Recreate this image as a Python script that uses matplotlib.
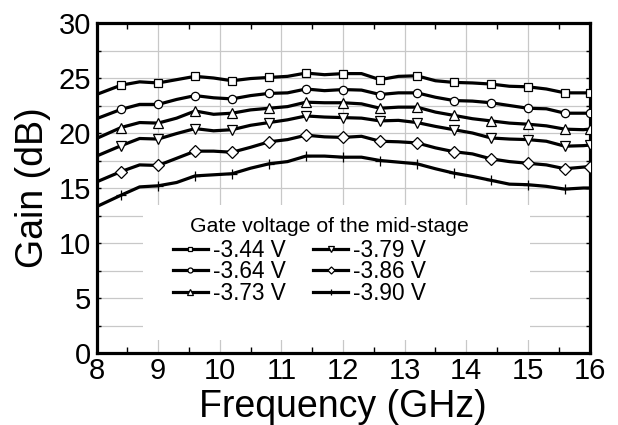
import matplotlib

matplotlib.use("Agg")
import matplotlib.pyplot as plt
from matplotlib.patches import Rectangle
from matplotlib.ticker import MultipleLocator, FixedLocator
import numpy as np

plt.rcParams["font.family"] = ["Liberation Sans", "DejaVu Sans"]

# measured gain vs frequency for each mid-stage gate bias
freq_ghz = [8.0, 8.4, 8.7, 9.0, 9.3, 9.6, 9.9, 10.2, 10.5, 10.8, 11.1, 11.4, 11.7, 12.0,
            12.3, 12.6, 12.9, 13.2, 13.5, 13.8, 14.1, 14.4, 14.7, 15.0, 15.3, 15.6, 15.9, 16.0]

gain_344 = [23.5, 24.35, 24.65, 24.55, 24.85, 25.15, 25.0, 24.75, 24.95, 25.05, 25.15, 25.45, 25.3, 25.4,
            25.4, 24.85, 25.15, 25.2, 24.75, 24.6, 24.55, 24.45, 24.25, 24.2, 24.0, 23.65, 23.65, 23.65]
gain_364 = [21.3, 22.15, 22.6, 22.6, 23.05, 23.4, 23.2, 23.1, 23.4, 23.6, 23.65, 24.0, 23.85, 23.95,
            23.9, 23.5, 23.65, 23.65, 23.25, 22.95, 22.9, 22.75, 22.5, 22.25, 22.2, 21.8, 21.8, 21.8]
gain_373 = [19.5, 20.5, 20.95, 20.9, 21.35, 22.0, 21.7, 21.8, 22.1, 22.25, 22.4, 22.8, 22.75, 22.75,
            22.65, 22.25, 22.35, 22.35, 21.9, 21.6, 21.3, 21.1, 20.9, 20.8, 20.65, 20.35, 20.3, 20.35]
gain_379 = [17.9, 18.85, 19.5, 19.45, 19.95, 20.4, 20.2, 20.3, 20.7, 20.95, 21.2, 21.55, 21.45, 21.4,
            21.35, 21.1, 21.15, 20.95, 20.6, 20.3, 20.0, 19.55, 19.45, 19.4, 19.25, 18.8, 18.85, 18.9]
gain_386 = [15.55, 16.5, 17.1, 17.05, 17.7, 18.35, 18.35, 18.25, 18.7, 19.2, 19.4, 19.8, 19.65, 19.6,
            19.7, 19.25, 19.2, 19.1, 18.65, 18.3, 18.1, 17.65, 17.4, 17.25, 17.1, 16.75, 16.9, 16.95]
gain_390 = [13.3, 14.35, 15.1, 15.2, 15.5, 16.1, 16.2, 16.3, 16.8, 17.2, 17.4, 17.9, 17.9, 17.8,
            17.8, 17.5, 17.35, 17.2, 16.75, 16.35, 16.05, 15.7, 15.35, 15.3, 15.15, 14.9, 15.0, 15.0]

bias_labels = ["-3.44 V", "-3.64 V", "-3.73 V", "-3.79 V", "-3.86 V", "-3.90 V"]
series = [gain_344, gain_364, gain_373, gain_379, gain_386, gain_390]
markers = ["s", "o", "^", "v", "D", "+"]
marker_sizes = [6, 6, 6.5, 6.5, 6, 7]

fig = plt.figure(figsize=(6.18, 4.25), dpi=100)
ax = fig.add_axes([96.5 / 618, 1 - 353 / 425, 493 / 618, 330 / 425])

for gain, label, mk, ms in zip(series, bias_labels, markers, marker_sizes):
    ax.plot(freq_ghz, gain, color="black", lw=2.3, solid_joinstyle="round",
            marker=mk, markevery=(1, 2), ms=ms, mfc="white", mec="black", mew=0.9,
            label=label, zorder=3)

ax.set_xlim(8, 16)
ax.set_ylim(0, 30)
ax.xaxis.set_major_locator(MultipleLocator(1))
ax.xaxis.set_minor_locator(FixedLocator(np.arange(8.5, 16, 1.0)))
ax.yaxis.set_major_locator(MultipleLocator(5))
ax.yaxis.set_minor_locator(MultipleLocator(2.5))

ax.grid(which="major", axis="x", color="#c8c8c8", lw=0.9, zorder=0)
ax.grid(which="both", axis="y", color="#c8c8c8", lw=0.9, zorder=0)
ax.set_axisbelow(True)

ax.tick_params(axis="x", which="major", length=0, labelsize=21, pad=3)
ax.tick_params(axis="x", which="minor", direction="in", length=4, width=1, top=True, bottom=True)
ax.tick_params(axis="y", which="both", direction="in", length=3, width=1, left=True, right=True)
ax.tick_params(axis="y", which="major", labelsize=21, pad=4)

for sp in ax.spines.values():
    sp.set_linewidth(2.3)

ax.set_xlabel("Frequency (GHz)", fontsize=27, labelpad=3)
ax.set_ylabel("Gain (dB)", fontsize=27, labelpad=5)

# white backing behind the legend block
ax.add_patch(Rectangle((0.094, 0.04), 0.785, 0.408, transform=ax.transAxes,
                       facecolor="white", edgecolor="none", zorder=1))

ax.text(0.19, 0.382, "Gate voltage of the mid-stage", transform=ax.transAxes,
        fontsize=15.3, ha="left", va="center", zorder=4)
leg = ax.legend(ncol=2, loc="upper left", bbox_to_anchor=(0.155, 0.345),
                frameon=False, fontsize=16.3, borderpad=0, borderaxespad=0,
                labelspacing=-0.08, handlelength=1.55, handletextpad=0.22,
                columnspacing=1.2, markerscale=0.6)
leg.set_zorder(4)

fig.savefig("out.png", dpi=100)
plt.close(fig)
